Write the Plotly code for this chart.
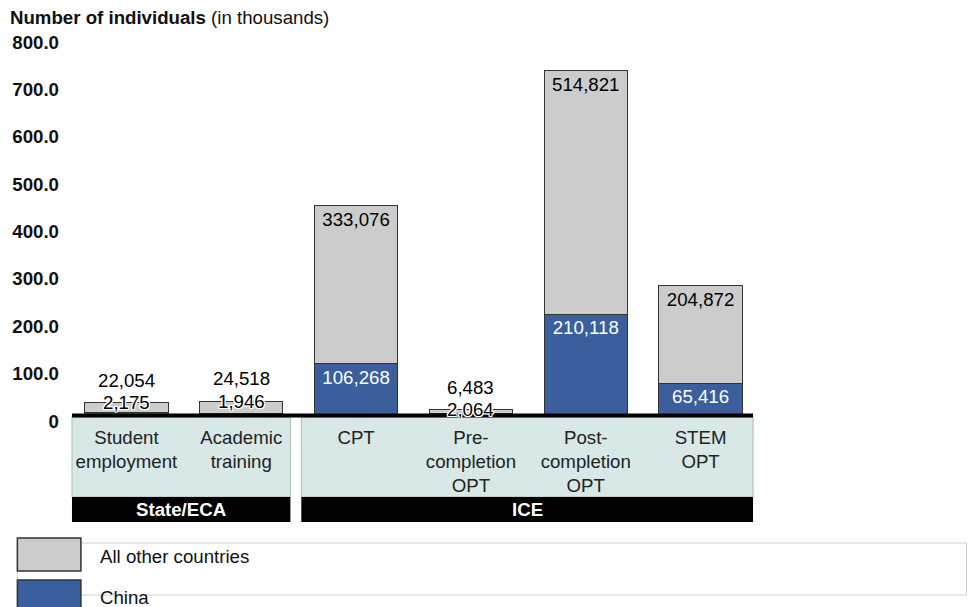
import plotly.graph_objects as go

# ---------------- data ----------------
categories = ["Student<br>employment", "Academic<br>training", "CPT",
              "Pre-<br>completion<br>OPT", "Post-<br>completion<br>OPT", "STEM<br>OPT"]
china = [2175, 1946, 106268, 2064, 210118, 65416]
all_other = [22054, 24518, 333076, 6483, 514821, 204872]
group_names = ["State/ECA", "ICE"]
group_first = [0, 2]
group_last = [1, 5]
y_tick_values = [0, 100, 200, 300, 400, 500, 600, 700, 800]
y_tick_labels = ["0", "100.0", "200.0", "300.0", "400.0", "500.0", "600.0", "700.0", "800.0"]
legend_labels = ["All other countries", "China"]

# ---------------- style ----------------
W, H = 969, 607
PL, PR, PT, PB = 64, 758, 35, 414          # plot area in pixels
FONT = "Arial, 'Liberation Sans', sans-serif"
FS = 18.67
GRAY = "#cccccc"
BLUE = "#3a5f9c"
EDGE = "#333333"
BOX = "#d7e8e7"
SMALL = 50  # thousands: labels drawn above the bar when the bar is this short

china_k = [v / 1000 for v in china]
other_k = [v / 1000 for v in all_other]
totals = [a + b for a, b in zip(china_k, other_k)]
small = [t < SMALL for t in totals]


def fmt(v):
    return f"{v:,}"


def px_x(p):
    return (p - PL) / (PR - PL)


def px_y(p):
    return (PB - p) / (PB - PT)


n = len(categories)

fig = go.Figure()
fig.add_trace(go.Bar(
    x=categories, y=china_k, name="China",
    marker=dict(color=BLUE, line=dict(color=EDGE, width=1)),
    text=["" if s else fmt(v) for v, s in zip(china, small)],
    textposition="inside", insidetextanchor="end", textangle=0,
    textfont=dict(family=FONT, size=FS, color="white"),
    hoverinfo="skip",
))
fig.add_trace(go.Bar(
    x=categories, y=other_k, name="All other countries",
    marker=dict(color=GRAY, line=dict(color=EDGE, width=1)),
    text=["" if s else fmt(v) for v, s in zip(all_other, small)],
    textposition="inside", insidetextanchor="end", textangle=0,
    textfont=dict(family=FONT, size=FS, color="black"),
    hoverinfo="skip",
))

halo = ("1px 1px 0 white, -1px -1px 0 white, 1px -1px 0 white, -1px 1px 0 white, "
        "0 1px 0 white, 0 -1px 0 white, 1px 0 0 white, -1px 0 0 white")
annotations = []
for i in range(n):
    if small[i]:
        annotations.append(dict(x=categories[i], y=totals[i], xref="x", yref="y",
                                text=fmt(all_other[i]), showarrow=False,
                                yanchor="bottom", yshift=10,
                                font=dict(family=FONT, size=FS, color="black")))
        annotations.append(dict(x=categories[i], y=totals[i], xref="x", yref="y",
                                text=fmt(china[i]), showarrow=False,
                                yanchor="middle", yshift=0,
                                font=dict(family=FONT, size=FS, color="black", shadow=halo)))

shapes = []
# group boxes
gaps = [(67, 287), (298, 753)]
for gname, (x0, x1) in zip(group_names, gaps):
    shapes.append(dict(type="rect", xref="paper", yref="paper",
                       x0=px_x(x0), x1=px_x(x1), y0=px_y(497), y1=px_y(417),
                       fillcolor=BOX, line=dict(color="#a9b9b8", width=1), layer="below"))
    shapes.append(dict(type="rect", xref="paper", yref="paper",
                       x0=px_x(x0), x1=px_x(x1), y0=px_y(522), y1=px_y(497),
                       fillcolor="black", line=dict(width=0), layer="above"))
    annotations.append(dict(x=px_x((x0 + x1) / 2), y=px_y(509.5), xref="paper", yref="paper",
                            text=f"<b>{gname}</b>", showarrow=False,
                            xanchor="center", yanchor="middle",
                            font=dict(family=FONT, size=FS, color="white")))
# baseline
shapes.append(dict(type="line", xref="paper", yref="paper",
                   x0=px_x(67), x1=px_x(753), y0=px_y(415.5), y1=px_y(415.5),
                   line=dict(color="black", width=4), layer="above"))

# legend
shapes.append(dict(type="rect", xref="paper", yref="paper",
                   x0=px_x(12), x1=px_x(968), y0=px_y(595), y1=px_y(543),
                   fillcolor="rgba(0,0,0,0)", line=dict(color="#cfcfcf", width=1), layer="above"))
legend_colors = [GRAY, BLUE]
legend_boxes = [(538, 571), (580, 612)]
legend_text_y = [556, 597]
for lbl, col, (y0, y1), ty in zip(legend_labels, legend_colors, legend_boxes, legend_text_y):
    shapes.append(dict(type="rect", xref="paper", yref="paper",
                       x0=px_x(12), x1=px_x(76), y0=px_y(y1), y1=px_y(y0),
                       fillcolor=col, line=dict(color=EDGE, width=1.5), layer="above"))
    annotations.append(dict(x=px_x(93), y=px_y(ty), xref="paper", yref="paper",
                            text=lbl, showarrow=False, xanchor="left", yanchor="middle",
                            font=dict(family=FONT, size=FS, color="#111111")))

fig.update_layout(
    width=W, height=H,
    margin=dict(l=PL, r=W - PR, t=PT, b=H - PB, pad=0),
    paper_bgcolor="white", plot_bgcolor="white",
    barmode="stack", bargap=0.273, showlegend=False,
    font=dict(family=FONT, size=FS, color="#222222"),
    title=dict(text="<b>Number of individuals</b> (in thousands)",
               xref="container", yref="container", x=10 / W, xanchor="left",
               y=1 - 17 / H, yanchor="middle",
               font=dict(family=FONT, size=FS, color="#111111")),
    annotations=annotations, shapes=shapes,
)
fig.update_xaxes(type="category", showgrid=False, showline=False, zeroline=False,
                 ticks="", ticklabelstandoff=10,
                 tickfont=dict(family=FONT, size=FS, color="#222222"))
fig.update_yaxes(range=[0, 800], tickvals=y_tick_values, ticktext=y_tick_labels,
                 showgrid=False, zeroline=False, showline=False, ticks="",
                 ticklabelshift=7, ticklabelstandoff=9,
                 tickfont=dict(family=FONT, size=FS, color="#111111", weight="bold"))

fig.write_html("out.html", config={"displayModeBar": False},
               post_script="document.body.style.margin='0';")
